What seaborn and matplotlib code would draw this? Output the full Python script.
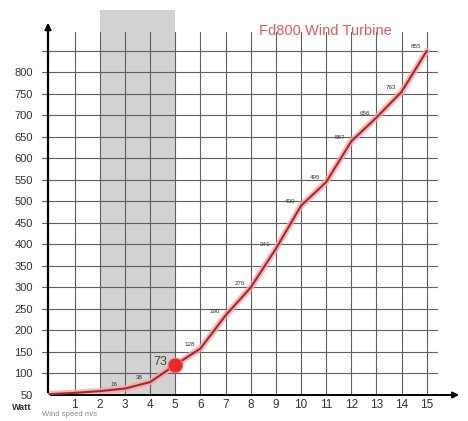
import matplotlib
matplotlib.use("Agg")
import matplotlib.pyplot as plt
import seaborn as sns
import pandas as pd

# ---- data ----
wind_speed = [0, 1, 2, 3, 4, 5, 6, 7, 8, 9, 10, 11, 12, 13, 14, 15]
power = [52, 55, 59, 65, 80, 120, 158, 235, 300, 390, 490, 545, 640, 695, 755, 850]
label_speeds = [3, 4, 6, 7, 8, 9, 10, 11, 12, 13, 14, 15]
label_texts = ["16", "38", "128", "190", "276", "341", "430", "495", "587", "656", "763", "855"]
highlight_speed = 5
highlight_text = "73"
y_ticks = [50, 100, 150, 200, 250, 300, 350, 400, 450, 500, 550, 600, 650, 700, 750, 800]
x_ticks = list(range(1, 16))
title = "Fd800 Wind Turbine"
y_unit = "Watt"

sns.set_style("white")
plt.rcParams['font.family'] = ['Liberation Sans', 'DejaVu Sans']

fig = plt.figure(figsize=(4.68, 4.21), dpi=100)
ax = fig.add_axes([48/468, 26/421, (462-48)/468, (411-26)/421])
ax.set_xlim(-0.06, 16.4)
ax.set_ylim(50, 945)

# shaded region
ax.axvspan(2, 5, ymin=0, ymax=1, color="#d2d2d2", zorder=0, lw=0)

# grid
grid_c = "#5e5e5e"
for y in y_ticks[1:] + [850]:
    ax.plot([-0.3, 15.4], [y, y], color=grid_c, lw=0.8, zorder=1, clip_on=False)
for x in x_ticks:
    ax.plot([x, x], [50, 893], color=grid_c, lw=0.8, zorder=1)

df = pd.DataFrame({"speed": wind_speed, "power": power})
# glow
sns.lineplot(data=df, x="speed", y="power", ax=ax, color="#f4a6a6", lw=4.5, zorder=3, alpha=0.8)
sns.lineplot(data=df, x="speed", y="power", ax=ax, color="#a8282e", lw=1.5, zorder=4)

hp = power[wind_speed.index(highlight_speed)]
ax.scatter([highlight_speed], [hp], s=110, color="#e82a2a", zorder=5, edgecolor="#f07070", lw=0.8)
ax.annotate(highlight_text, (highlight_speed, hp), xytext=(-11, 2), textcoords="offset points",
            ha="center", va="center", fontsize=9, color="#444444", zorder=6)

for s, t in zip(label_speeds, label_texts):
    p = power[wind_speed.index(s)]
    ax.annotate(t, (s, p), xytext=(-8, 3), textcoords="offset points",
                ha="center", va="center", fontsize=4.5, color="#333333", zorder=6)

# axes
for sp in ax.spines.values():
    sp.set_visible(False)
ax.annotate("", xy=(-0.06, 922), xytext=(-0.06, 50),
            arrowprops=dict(arrowstyle="-|>", color="black", lw=1.6, mutation_scale=9))
ax.annotate("", xy=(16.4, 50), xytext=(-0.06, 50),
            arrowprops=dict(arrowstyle="-|>", color="black", lw=1.4, mutation_scale=9),
            annotation_clip=False)

ax.set_xticks(x_ticks)
ax.set_xticklabels([str(x) for x in x_ticks])
ax.set_yticks(y_ticks)
ax.set_yticklabels([str(y) for y in y_ticks])
ax.tick_params(axis="x", length=2, width=0.8, colors="#333333", labelsize=8.5, pad=2, direction="inout")
ax.tick_params(axis="y", length=0, colors="#333333", labelsize=8, pad=11)
ax.set_xlabel("")
ax.set_ylabel("")

fig.text(325/468, 1 - 31/421, title, ha="center", va="center", fontsize=10.5, color="#e05a5a")
fig.text(22/468, 1 - 407/421, y_unit, ha="center", va="center", fontsize=6.5, color="#333333", fontweight="bold")
fig.text(42/468, 1 - 415/421, "Wind speed m/s", ha="left", va="center", fontsize=5.5, color="#8a8a8a")

fig.savefig("out.png", dpi=100)
